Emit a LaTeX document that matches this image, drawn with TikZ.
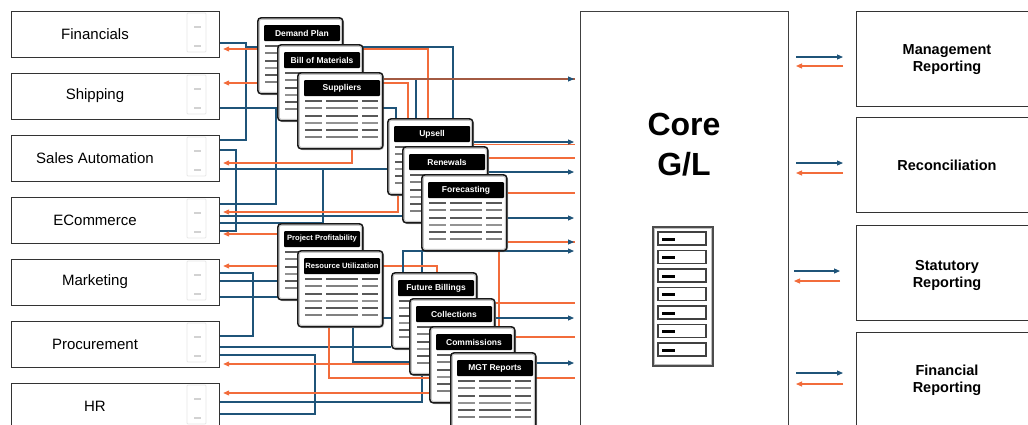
\documentclass[tikz,border=0pt]{standalone}
\usepackage{fontspec}
\setmainfont{Liberation Sans}
\usetikzlibrary{arrows.meta,calc,shadows}
\pgfdeclarelayer{back}
\pgfsetlayers{back,main}
\definecolor{lblue}{HTML}{1F5479}
\definecolor{lorange}{HTML}{F26C3B}
\definecolor{lbrown}{HTML}{A35A42}
\newcommand{\mkdoc}[5]{%
  \node[docbox] (#1) at (#2,#3) {};
  \draw[gray!45, line width=0.9pt, rounded corners=2pt] ($(#1.north west)+(2.3,2.3)$) rectangle ($(#1.south east)+(-2.3,-2.3)$);
  \node[dochead, font=\bfseries\fontsize{#5}{#5}\selectfont] (#1h) at ($(#1.north west)+(45,16)$) {#4};
  \foreach \rr/\cc in {29/gray!70!black,36/gray,44/gray!70!black,51/gray!85,58/gray!70!black,65/gray} {
    \draw[docrow, \cc] ($(#1.north west)+(8,\rr)$) -- ++(17,0);
    \draw[docrow, \cc] ($(#1.north west)+(29,\rr)$) -- ++(32,0);
    \draw[docrow, \cc] ($(#1.north west)+(65,\rr)$) -- ++(16,0);
  }
}
\newcommand{\mkleft}[3]{%
  \node[lbox] (#1) at (11,#2) {};
  \draw[gray!18, line width=0.8pt, rounded corners=1pt] ($(#1.north west)+(176,2)$) rectangle ++(19,39);
  \draw[gray!35, line width=1.3pt] ($(#1.north west)+(183,16)$) -- ++(7,0);
  \draw[gray!35, line width=1.3pt] ($(#1.north west)+(183,35)$) -- ++(7,0);
  \node[ltext] (#1t) at ($(#1.north west)+(84,23)$) {#3};
}
\begin{document}
\begin{tikzpicture}[x=1pt,y=-1pt,
  bl/.style={draw=lblue, line width=1.1pt},
  ol/.style={draw=lorange, line width=1.1pt},
  tip/.style={-{Triangle[length=6pt,width=5pt]}},
  lbox/.style={draw=black!80, line width=1.2pt, fill=white, anchor=north west, minimum width=208pt, minimum height=46pt, inner sep=0pt},
  ltext/.style={font=\fontsize{15}{18}\selectfont, inner sep=0pt},
  rbox/.style={draw=black!80, line width=1.2pt, fill=white, anchor=north west, minimum width=184pt, minimum height=95pt, inner sep=0pt},
  rtext/.style={font=\bfseries\fontsize{14.5}{17}\selectfont, align=center, inner sep=0pt},
  corebox/.style={draw=black!75, line width=1pt, fill=white, anchor=north west, minimum width=208pt, minimum height=425pt, inner sep=0pt},
  docbox/.style={draw=black!90, line width=1.6pt, fill=white, rounded corners=3.5pt, anchor=north west, minimum width=85pt, minimum height=76pt, inner sep=0pt, drop shadow={shadow xshift=1.2pt, shadow yshift=-1.2pt, fill=black!60, opacity=0.45}},
  dochead/.style={fill=black, text=white, minimum width=76pt, minimum height=16pt, inner sep=0pt, rounded corners=1pt},
  docrow/.style={line width=1.7pt}
]
\useasboundingbox (0,0) rectangle (1028,424);
\clip (0,0) rectangle (1028,424);

% left boxes
\mkleft{fin}{11}{Financials}
\mkleft{ship}{73}{Shipping}
\mkleft{sales}{135}{Sales Automation}
\mkleft{ecom}{197}{ECommerce}
\mkleft{mkt}{259}{Marketing}
\mkleft{proc}{321}{Procurement}
\mkleft{hr}{383}{HR}

% core
\node[corebox] (core) at (580,11) {};
\node[font=\bfseries\fontsize{32}{40}\selectfont, inner sep=0pt, anchor=base] (coret) at (684,135) {Core};
\node[font=\bfseries\fontsize{32}{40}\selectfont, inner sep=0pt, anchor=base] (glt) at (684,175) {G/L};
\node[draw=black!70, line width=1.5pt, fill=white, minimum width=60pt, minimum height=139pt, anchor=north west, inner sep=0pt] (srv) at (652,226) {};
\draw[gray!50, line width=1pt] ($(srv.north west)+(2.5,2.5)$) rectangle ($(srv.south east)+(-2.5,-2.5)$);
\foreach \i in {0,...,6} {
  \draw[black!75, line width=1.6pt, fill=white] ($(srv.north west)+(6,{6+18.5*\i})$) rectangle ++(48,13);
  \fill[black] ($(srv.north west)+(10,{11.5+18.5*\i})$) rectangle ++(13,3);
}

% right boxes
\node[rbox] (mgmt) at (856,11) {};
\node[rbox] (rec) at (856,117) {};
\node[rbox] (stat) at (856,225) {};
\node[rbox] (finrep) at (856,332) {};
\node[rtext] (mgmtt) at (947,60) {Management\\Reporting};
\node[rtext] (rect) at (947,165) {Reconciliation};
\node[rtext] (statt) at (947,275) {Statutory\\Reporting};
\node[rtext] (finrept) at (947,380) {Financial\\Reporting};

% documents
\mkdoc{dp}{257}{17}{Demand Plan}{8.5}
\mkdoc{bom}{277}{44}{Bill of Materials}{8.5}
\mkdoc{sup}{297}{72}{Suppliers}{8.5}
\mkdoc{ups}{387}{118}{Upsell}{8.5}
\mkdoc{ren}{402}{146}{Renewals}{8.5}
\mkdoc{fcst}{421}{174}{Forecasting}{8.5}
\mkdoc{pp}{277}{223}{Project Profitability}{7.6}
\mkdoc{ru}{297}{250}{Resource Utilization}{7.6}
\mkdoc{fb}{391}{272}{Future Billings}{8.5}
\mkdoc{col}{409}{298}{Collections}{8.5}
\mkdoc{com}{429}{326}{Commissions}{8.5}
\mkdoc{mgt}{450}{352}{MGT Reports}{8.5}

\begin{pgfonlayer}{back}
\fill[white] (0,0) rectangle (1028,424);
% blue connectors
\draw[bl] (fin.east |- 0,43) -| (246,140) -- (sales.east |- 0,140);
\draw[bl] (246,47) -| (ups.north -| 453,0);
\draw[bl] (ship.east |- 0,108) -| (ups.north -| 396,0);
\draw[bl] (276,108) |- (ecom.east |- 0,204);
\draw[bl] (ups.north -| 416,0) -- (416,79);
\draw[bl] (sales.east |- 0,150) -| (236,231) -- (ecom.east |- 0,231);
\draw[bl] (sales.east |- 0,169) -- (ups.west |- 0,169);
\draw[bl] (323,169) |- (ecom.east |- 0,223);
\draw[bl] (ecom.east |- 0,216) -- (ren.west |- 0,216);
\draw[bl] (mkt.east |- 0,273) -| (253,336) -- (proc.east |- 0,336);
\draw[bl] (mkt.east |- 0,281) -- (300,281);
\draw[bl] (mkt.east |- 0,297) -| (340,318) -- (fb.west |- 0,318);
\draw[bl] (proc.east |- 0,347) -- (fb.west |- 0,347);
\draw[bl] (proc.east |- 0,355) -| (315,414) -- (hr.east |- 0,414);
\draw[bl] (ru.south -| 353,0) |- (col.west |- 0,362);
\draw[bl] (col.south -| 422,0) |- (hr.east |- 0,402);
\draw[bl] (fcst.south -| 422,0) -- (fb.north -| 422,0);
% orange into left boxes
\draw[ol,tip,shorten >=3pt] (ups.north -| 428,0) |- (fin.east |- 0,49);
\draw[ol,tip,shorten >=3pt] (ups.north -| 408,0) |- (ship.east |- 0,83);
\draw[ol,tip,shorten >=3pt] (sup.south -| 352,0) |- (sales.east |- 0,163);
\draw[ol,tip,shorten >=3pt] (ups.south -| 398,0) |- (ecom.east |- 0,212);
\draw[ol,tip,shorten >=3pt] (300,234) -- (ecom.east |- 0,234);
\draw[ol,tip,shorten >=3pt] (fb.north -| 437,0) |- (mkt.east |- 0,266);
\draw[ol,tip,shorten >=3pt] (col.west |- 0,364) -- (proc.east |- 0,364);
\draw[ol,tip,shorten >=3pt] (mgt.west |- 0,393) -- (hr.east |- 0,393);
\draw[ol] (fcst.south -| 499,0) -- (com.north -| 499,0);
% lines to core
\draw[draw=lbrown, line width=1.2pt, shorten >=5pt] (sup.east |- 0,79) -- (core.west |- 0,79);
\draw[bl,tip] ($(core.west |- 0,79)+(-12,0)$) -- ($(core.west |- 0,79)+(-6,0)$);
\draw[ol,shorten >=5pt] (ups.east |- 0,144.5) -- (core.west |- 0,144.5);
\draw[bl,tip,shorten >=6pt] (ups.east |- 0,142) -- (core.west |- 0,142);
\draw[ol,shorten >=5pt] (ren.east |- 0,158) -- (core.west |- 0,158);
\draw[bl,tip,shorten >=6pt] (ren.east |- 0,172) -- (core.west |- 0,172);
\draw[ol,shorten >=5pt] (fcst.east |- 0,193) -- (core.west |- 0,193);
\draw[bl,tip,shorten >=6pt] (fcst.east |- 0,218) -- (core.west |- 0,218);
\draw[ol,shorten >=5pt] (fcst.east |- 0,242) -- (core.west |- 0,242);
\draw[bl,tip] ($(core.west |- 0,242)+(-12,0)$) -- ($(core.west |- 0,242)+(-6,0)$);
\draw[bl,tip,shorten >=6pt] (fb.north -| 403,0) |- (core.west |- 0,251);
\draw[ol,shorten >=5pt] (col.east |- 0,303) -- (core.west |- 0,303);
\draw[bl,tip,shorten >=6pt] (col.east |- 0,318) -- (core.west |- 0,318);
\draw[ol,shorten >=5pt] (com.east |- 0,337) -- (core.west |- 0,337);
\draw[bl,tip,shorten >=6pt] (mgt.east |- 0,363) -- (core.west |- 0,363);
\draw[ol,shorten >=5pt] (ru.south -| 329,0) |- (core.west |- 0,378);
\end{pgfonlayer}

% core to reporting
\draw[bl,tip,shorten <=7pt,shorten >=13pt] (core.east |- 0,57) -- (mgmt.west |- 0,57);
\draw[ol,tip,shorten <=13pt,shorten >=7pt] (mgmt.west |- 0,66) -- (core.east |- 0,66);
\draw[bl,tip,shorten <=7pt,shorten >=13pt] (core.east |- 0,163) -- (rec.west |- 0,163);
\draw[ol,tip,shorten <=13pt,shorten >=7pt] (rec.west |- 0,173) -- (core.east |- 0,173);
\draw[bl,tip,shorten <=5pt,shorten >=16pt] (core.east |- 0,271) -- (stat.west |- 0,271);
\draw[ol,tip,shorten <=16pt,shorten >=5pt] (stat.west |- 0,281) -- (core.east |- 0,281);
\draw[bl,tip,shorten <=7pt,shorten >=13pt] (core.east |- 0,373) -- (finrep.west |- 0,373);
\draw[ol,tip,shorten <=13pt,shorten >=7pt] (finrep.west |- 0,384) -- (core.east |- 0,384);
\end{tikzpicture}
\end{document}
